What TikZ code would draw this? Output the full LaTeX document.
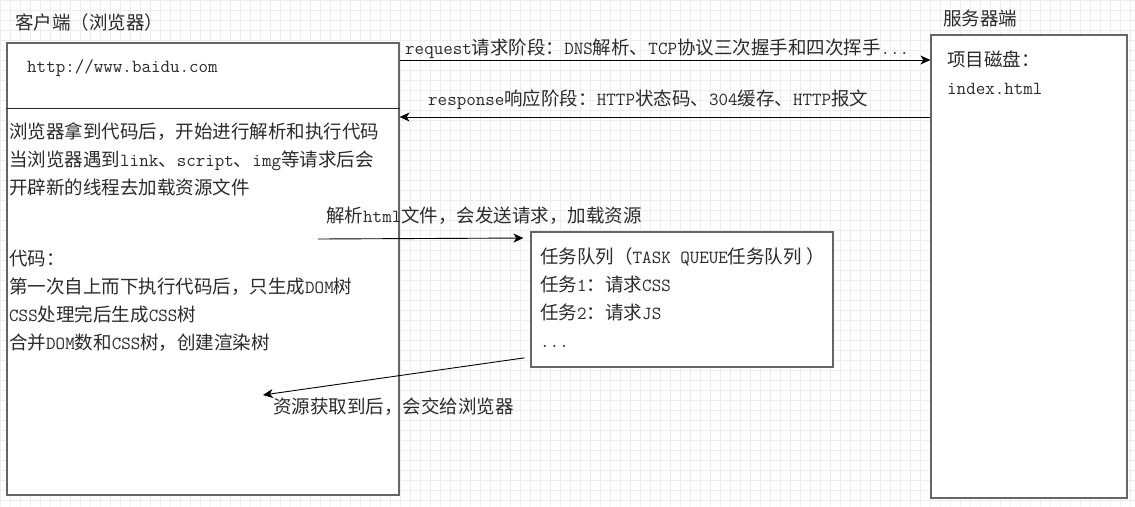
\documentclass[tikz,border=0pt]{standalone}
\usepackage{fontspec}
\setmainfont{Noto Sans CJK SC}
\usepackage{tikz}
\usetikzlibrary{arrows.meta,positioning,calc}
\definecolor{bwline}{HTML}{666666}
\definecolor{bwtext}{HTML}{2B2B2B}
\definecolor{bwgrid}{HTML}{EDEDED}
\newcommand{\la}[1]{{\ttfamily #1}}
\tikzset{
  bwbox/.style={draw=bwline, fill=white, line width=1.2pt, inner sep=0pt},
  bwtxt/.style={anchor=base west, inner sep=0pt, text=bwtext,
    font=\fontsize{18.5}{28}\selectfont},
  bwarrow/.style={-{Stealth[length=10pt,width=9pt,inset=3pt]}, line width=0.9pt, draw=black}
}
\begin{document}
\begin{tikzpicture}[x=1pt, y=-1pt]
  \useasboundingbox (0,0) rectangle (1135,506);
  \fill[white] (0,0) rectangle (1135,506);
  \draw[bwgrid, line width=0.6pt] (0,0) grid[step=10pt] (1135,506);
  % client side
  \node[bwbox, minimum width=392pt, minimum height=452pt] (client) at (203,269) {};
  \draw[black!85, line width=1pt] (client.west |- 0,108) -- (client.east |- 0,108);
  \node[bwtxt] (clienttitle) at (15,29) {客户端（浏览器）};
  \node[bwtxt] (url) at (27,72) {\la{http://www.baidu.com}};
  \foreach \ln [count=\i from 0] in {浏览器拿到代码后，开始进行解析和执行代码,
      当浏览器遇到\la{link}、\la{script}、\la{img}等请求后会,
      开辟新的线程去加载资源文件}
    \node[bwtxt] (parse\i) at (9,138+28*\i) {\ln};
  \foreach \ln [count=\i from 0] in {代码：,
      第一次自上而下执行代码后，只生成\la{DOM}树,
      \la{CSS}处理完后生成\la{CSS}树,
      合并\la{DOM}数和\la{CSS}树，创建渲染树}
    \node[bwtxt] (code\i) at (9,265+28*\i) {\ln};
  % server side
  \node[bwbox, minimum width=196pt, minimum height=463pt] (server) at (1029,266.5) {};
  \node[bwtxt] (servertitle) at (943,25) {服务器端};
  \node[bwtxt] (disk) at (947,66) {项目磁盘：};
  \node[bwtxt] (index) at (947,94) {\la{index.html}};
  % request / response
  \draw[bwarrow] (client.east |- 0,60) -- (server.west |- 0,60);
  \node[bwtxt] (reqlabel) at (405,54) {\la{request}请求阶段：\la{DNS}解析、\la{TCP}协议三次握手和四次挥手\la{...}};
  \draw[bwarrow] (server.west |- 0,117) -- (client.east |- 0,117);
  \node[bwtxt] (reslabel) at (428,105) {\la{response}响应阶段：\la{HTTP}状态码、\la{304}缓存、\la{HTTP}报文};
  % task queue
  \node[bwbox, minimum width=302pt, minimum height=135pt] (queue) at (682,299.5) {};
  \node[bwtxt] (task0) at (540,263) {任务队列（\la{TASK QUEUE}任务队列 ）};
  \node[bwtxt] (task1) at (540,291) {任务\la{1}：请求\la{CSS}};
  \node[bwtxt] (task2) at (540,319) {任务\la{2}：请求\la{JS}};
  \node[bwtxt] (task3) at (540,347) {\la{...}};
  \coordinate (parsefrom) at (318,239);
  \draw[bwarrow, shorten >=7pt] (parsefrom) -- (queue.west |- 0,238);
  \node[bwtxt] (parselabel) at (326,222) {解析\la{html}文件，会发送请求，加载资源};
  \coordinate (backto) at (263,395);
  \draw[bwarrow, shorten <=6pt] (queue.west |- 0,357) -- (backto);
  \node[bwtxt] (backlabel) at (273,413) {资源获取到后，会交给浏览器};
\end{tikzpicture}
\end{document}
